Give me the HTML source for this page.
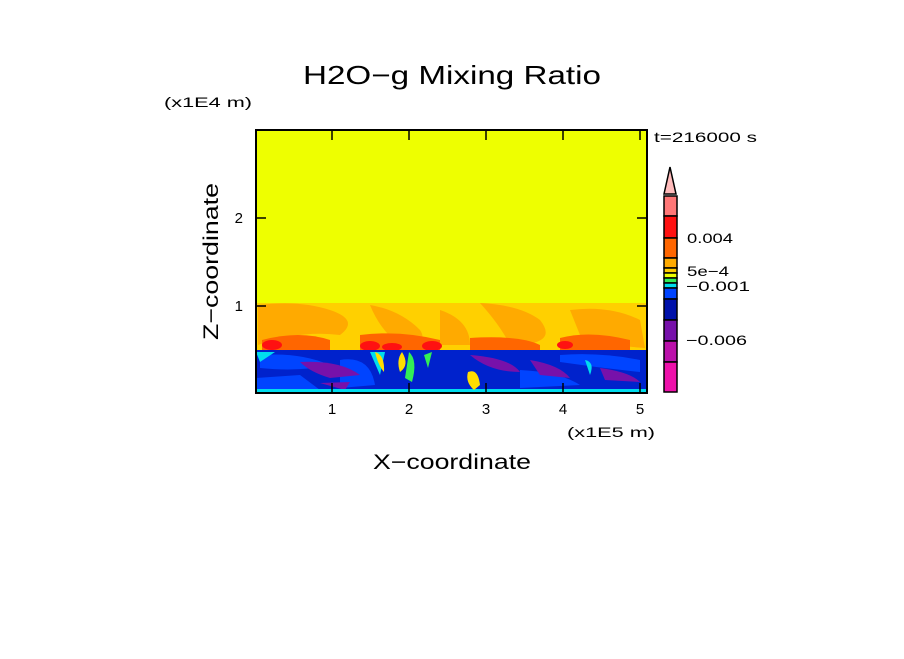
<!DOCTYPE html>
<html><head><style>
body{margin:0;background:#fff;}
svg text{font-family:"Liberation Sans",sans-serif;}
</style></head><body>
<svg width="904" height="654" xmlns="http://www.w3.org/2000/svg">
<rect width="904" height="654" fill="#fff"/>
<text x="303" y="84" font-size="26" textLength="298" lengthAdjust="spacingAndGlyphs" fill="#000">H2O−g Mixing Ratio</text>
<text x="164" y="107" font-size="14" textLength="88" lengthAdjust="spacingAndGlyphs" fill="#000">(x1E4 m)</text>
<text x="654" y="142" font-size="14" textLength="103" lengthAdjust="spacingAndGlyphs" fill="#000">t=216000 s</text>
<!-- plot -->
<rect x="256" y="130" width="391" height="263" fill="#eeff00"/>
<path d="M256 303 L647 303 L647 350 L256 350 Z" fill="#ffd000"/>
<g fill="#ffaa00">
<path d="M258 305 Q300 300 330 310 Q360 320 340 335 Q300 330 258 345Z"/>
<path d="M370 305 Q400 310 420 330 Q430 345 400 345 Q380 330 370 305Z"/>
<path d="M480 303 Q520 305 540 320 Q560 345 510 345 Q500 325 480 303Z"/>
<path d="M570 310 Q610 305 640 320 L645 348 Q600 345 580 335Z"/>
<path d="M440 310 Q470 320 470 345 L440 345Z"/>
</g>
<g fill="#ff6600">
<path d="M262 340 Q300 330 330 340 L330 350 L262 350Z"/>
<path d="M360 335 Q400 330 440 340 L440 350 L360 350Z"/>
<path d="M470 338 Q520 335 540 345 L540 350 L470 350Z"/>
<path d="M560 338 Q590 330 630 340 L630 350 L560 350Z"/>
</g>
<g fill="#ff1111">
<ellipse cx="272" cy="345" rx="10" ry="5"/>
<ellipse cx="370" cy="346" rx="10" ry="5"/>
<ellipse cx="392" cy="347" rx="10" ry="4"/>
<ellipse cx="432" cy="346" rx="10" ry="5"/>
<ellipse cx="565" cy="345" rx="8" ry="4"/>
</g>
<rect x="256" y="350" width="391" height="43" fill="#0022cc"/>
<g fill="#0044ff">
<path d="M260 355 Q300 352 330 365 Q300 372 260 368Z"/>
<path d="M340 360 Q370 355 375 385 L340 388Z"/>
<path d="M560 355 Q600 352 640 360 L640 372 Q600 368 560 362Z"/>
<path d="M256 378 L300 375 L320 390 L256 392Z"/>
<path d="M520 370 Q560 372 580 385 L520 388Z"/>
</g>
<g fill="#7711aa">
<path d="M300 362 Q340 360 360 375 L330 378 Q310 372 300 362Z"/>
<path d="M470 355 Q510 358 520 372 Q490 372 470 355Z"/>
<path d="M530 360 Q560 365 570 378 L540 375Z"/>
<path d="M600 368 Q630 372 640 382 L605 380Z"/>
<path d="M320 383 L350 382 L345 390 Z"/>
</g>
<g fill="#00ddee">
<path d="M256 352 L275 352 L260 362 Z"/>
<path d="M370 352 L385 352 L380 375 Z"/>
<path d="M585 360 Q595 362 590 375 Z"/>
<rect x="256" y="389" width="391" height="3"/>
</g>
<g fill="#ffdd00">
<path d="M375 352 Q385 355 384 372 Q378 365 375 352Z"/>
<path d="M468 372 Q478 368 480 385 L474 390 Q465 382 468 372Z"/>
<path d="M402 352 Q410 365 400 372 Q396 360 402 352Z"/>
</g>
<g fill="#33ee55">
<path d="M409 352 Q418 360 412 382 L405 378Z"/>
<path d="M424 355 L432 352 L428 368Z"/>
</g>
<rect x="256" y="130" width="391" height="263" fill="none" stroke="#000" stroke-width="2"/>
<g stroke="#000" stroke-width="1.5">
<line x1="256" y1="306" x2="266" y2="306"/><line x1="637" y1="306" x2="647" y2="306"/>
<line x1="256" y1="218" x2="266" y2="218"/><line x1="637" y1="218" x2="647" y2="218"/>
<line x1="332" y1="393" x2="332" y2="383"/><line x1="409" y1="393" x2="409" y2="383"/>
<line x1="486" y1="393" x2="486" y2="383"/><line x1="563" y1="393" x2="563" y2="383"/>
<line x1="640" y1="393" x2="640" y2="383"/>
<line x1="332" y1="130" x2="332" y2="140"/><line x1="409" y1="130" x2="409" y2="140"/>
<line x1="486" y1="130" x2="486" y2="140"/><line x1="563" y1="130" x2="563" y2="140"/>
<line x1="640" y1="130" x2="640" y2="140"/>
</g>
<g font-size="15" fill="#000">
<text x="243" y="311" text-anchor="end">1</text>
<text x="243" y="223" text-anchor="end">2</text>
<text x="332" y="414" text-anchor="middle">1</text>
<text x="409" y="414" text-anchor="middle">2</text>
<text x="486" y="414" text-anchor="middle">3</text>
<text x="563" y="414" text-anchor="middle">4</text>
<text x="640" y="414" text-anchor="middle">5</text>
<text x="567" y="437" font-size="14" textLength="88" lengthAdjust="spacingAndGlyphs">(x1E5 m)</text>
</g>
<text x="373" y="469" font-size="21" textLength="158" lengthAdjust="spacingAndGlyphs">X−coordinate</text>
<text transform="translate(218,340) rotate(-90)" font-size="21" textLength="157" lengthAdjust="spacingAndGlyphs">Z−coordinate</text>
<g stroke="#000" stroke-width="1.5">
<path d="M664 194 L670 167 L676 194 Z" fill="#ffbbbb"/>
<rect x="664" y="196" width="13" height="20" fill="#ff7777"/>
<rect x="664" y="216" width="13" height="22" fill="#ff1111"/>
<rect x="664" y="238" width="13" height="20" fill="#ff6600"/>
<rect x="664" y="258" width="13" height="10" fill="#ffaa00"/>
<rect x="664" y="268" width="13" height="5" fill="#ffcc00"/>
<rect x="664" y="273" width="13" height="5" fill="#eeff00"/>
<rect x="664" y="278" width="13" height="5" fill="#33ee55"/>
<rect x="664" y="283" width="13" height="5" fill="#00ddee"/>
<rect x="664" y="288" width="13" height="11" fill="#0044ff"/>
<rect x="664" y="299" width="13" height="21" fill="#0011aa"/>
<rect x="664" y="320" width="13" height="21" fill="#7711aa"/>
<rect x="664" y="341" width="13" height="21" fill="#bb11aa"/>
<rect x="664" y="362" width="13" height="30" fill="#ee11aa"/>
</g>
<g font-size="14" fill="#000">
<text x="687" y="243" textLength="46" lengthAdjust="spacingAndGlyphs">0.004</text>
<text x="687" y="276" textLength="42" lengthAdjust="spacingAndGlyphs">5e−4</text>
<text x="686" y="291" textLength="64" lengthAdjust="spacingAndGlyphs">−0.001</text>
<text x="686" y="345" textLength="61" lengthAdjust="spacingAndGlyphs">−0.006</text>
</g>
</svg>
</body></html>
